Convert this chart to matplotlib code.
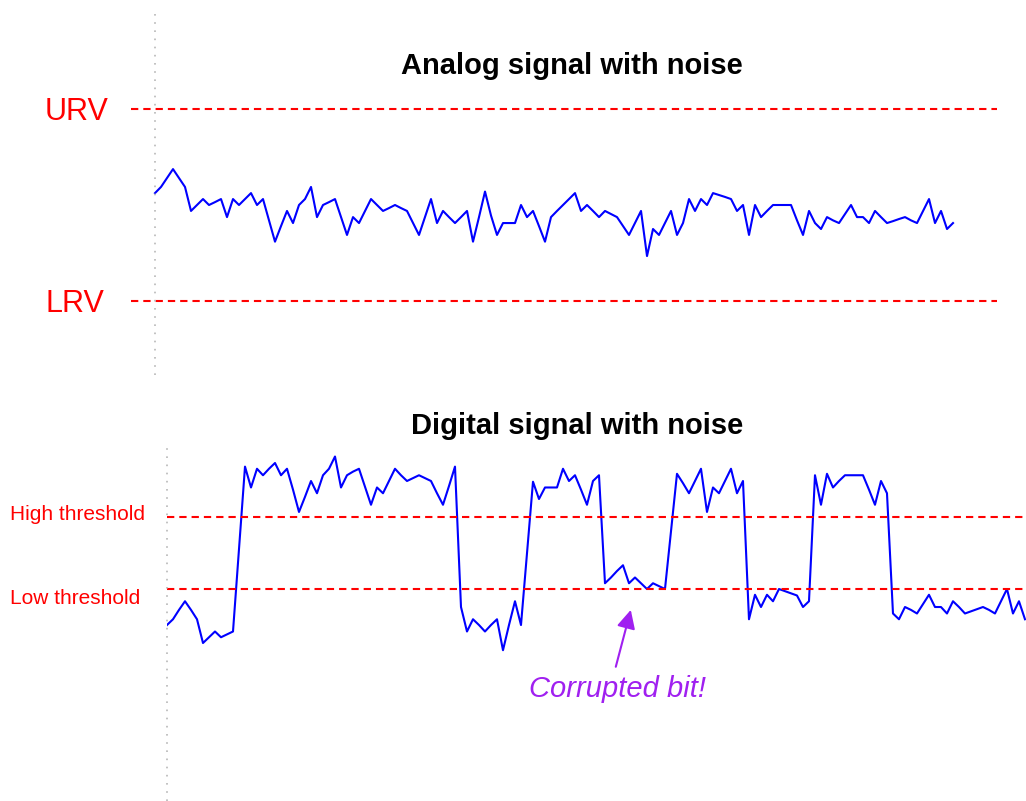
import matplotlib
matplotlib.use("Agg")
import matplotlib.pyplot as plt

plt.rcParams['font.family'] = ['Liberation Sans', 'DejaVu Sans']

# analog signal, percent of span (LRV = 0, URV = 100), one value per sample
analog = [56.2, 59.4, 64.0, 68.7, 64.0, 59.4, 46.9, 50.0, 53.1, 50.0,
          51.5, 53.1, 43.7, 53.1, 50.0, 53.1, 56.2, 50.0, 53.1, 42.0,
          30.9, 39.0, 46.9, 40.6, 50.0, 53.1, 59.4, 43.7, 50.0, 51.5,
          53.1, 43.7, 34.4, 43.7, 40.6, 46.9, 53.1, 50.0, 46.9, 48.4,
          50.0, 48.4, 46.9, 40.6, 34.4, 43.7, 53.1, 40.6, 46.9, 43.7,
          40.6, 43.7, 46.9, 30.9, 43.7, 57.0, 44.5, 34.4, 40.6, 40.6,
          40.6, 50.0, 43.7, 46.9, 39.0, 30.9, 43.7, 46.9, 50.0, 53.1,
          56.2, 46.9, 50.0, 46.9, 43.7, 46.9, 45.3, 43.7, 39.0, 34.4,
          40.6, 46.9, 23.4, 37.5, 34.4, 40.6, 46.9, 34.4, 40.6, 53.1,
          46.9, 53.1, 50.0, 56.2, 55.2, 54.2, 53.1, 46.9, 50.0, 34.4,
          50.0, 43.7, 46.9, 50.0, 50.0, 50.0, 50.0, 42.0, 34.4, 46.9,
          40.6, 37.5, 43.7, 42.0, 40.6, 45.3, 50.0, 43.7, 43.7, 40.6,
          46.9, 43.7, 40.6, 41.6, 42.7, 43.7, 42.0, 40.6, 46.9, 53.1,
          40.6, 46.9, 37.5, 40.6]
urv, lrv = 100.0, 0.0

# digital signal (low threshold = 1.0, high threshold = 2.0)
digital = [0.50, 0.58, 0.71, 0.83, 0.71, 0.58, 0.25, 0.33, 0.41, 0.33,
           0.37, 0.41, 1.56, 2.70, 2.41, 2.67, 2.58, 2.67, 2.75, 2.58,
           2.67, 2.38, 2.07, 2.28, 2.50, 2.33, 2.58, 2.67, 2.84, 2.41,
           2.58, 2.63, 2.67, 2.42, 2.17, 2.41, 2.33, 2.50, 2.67, 2.58,
           2.50, 2.54, 2.58, 2.54, 2.50, 2.33, 2.17, 2.43, 2.70, 0.75,
           0.41, 0.58, 0.50, 0.41, 0.50, 0.58, 0.15, 0.50, 0.83, 0.50,
           1.50, 2.49, 2.25, 2.41, 2.41, 2.41, 2.67, 2.50, 2.58, 2.38,
           2.17, 2.50, 2.58, 1.08, 1.16, 1.25, 1.33, 1.08, 1.16, 1.08,
           1.00, 1.08, 1.04, 1.00, 1.80, 2.60, 2.47, 2.33, 2.50, 2.67,
           2.07, 2.41, 2.33, 2.50, 2.67, 2.33, 2.50, 0.58, 0.92, 0.75,
           0.92, 0.83, 1.00, 0.97, 0.94, 0.91, 0.75, 0.83, 2.58, 2.17,
           2.60, 2.41, 2.50, 2.58, 2.58, 2.58, 2.58, 2.38, 2.17, 2.50,
           2.33, 0.66, 0.58, 0.75, 0.71, 0.66, 0.79, 0.92, 0.75, 0.75,
           0.66, 0.83, 0.75, 0.66, 0.69, 0.72, 0.75, 0.71, 0.66, 0.83,
           1.00, 0.66, 0.83, 0.58]
high_thr, low_thr = 2.0, 1.0

W, H = 1026, 801
blue = '#0000ff'
red = '#ff0000'
purple = '#a020f0'
dash = (0, (3.5, 2.4))
dots = (0, (1, 3.9))


def fx(px):
    return px / W


def fy(py):
    return 1 - py / H


fig = plt.figure(figsize=(W / 100, H / 100), dpi=100)

# ---- analog panel
ax1 = fig.add_axes([fx(131), fy(375), (997 - 131) / W, (375 - 12) / H])
ax1.plot(range(len(analog)), analog, color=blue, lw=1.5)
ax1.axhline(urv, color=red, lw=1.5, ls=dash)
ax1.axhline(lrv, color=red, lw=1.5, ls=dash)
ax1.axvline(0, color='#b8b8b8', lw=1.2, ls=dots)
ax1.set_xlim(-4, 140.33)
ax1.set_ylim(-38.54, 150.52)
ax1.axis('off')

fig.text(fx(572), fy(66), 'Analog signal with noise', ha='center', va='center',
         fontsize=21, fontweight='bold')
fig.text(fx(45), fy(112), 'URV', ha='left', va='center', fontsize=22, color=red)
fig.text(fx(45), fy(304), 'LRV', ha='left', va='center', fontsize=22, color=red)

# ---- digital panel
ax2 = fig.add_axes([fx(167), fy(801), (1026 - 167) / W, (801 - 445) / H])
ax2.plot(range(len(digital)), digital, color=blue, lw=1.5)
ax2.axhline(high_thr, color=red, lw=1.5, ls=dash)
ax2.axhline(low_thr, color=red, lw=1.5, ls=dash)
ax2.axvline(0, color='#b8b8b8', lw=1.2, ls=dots, clip_on=False)
ax2.set_xlim(0, 143.17)
ax2.set_ylim(-1.944, 3.0)
ax2.axis('off')

fig.text(fx(577), fy(426), 'Digital signal with noise', ha='center', va='center',
         fontsize=21, fontweight='bold')
fig.text(fx(10), fy(514), 'High threshold', ha='left', va='center', fontsize=15, color=red)
fig.text(fx(10), fy(598), 'Low threshold', ha='left', va='center', fontsize=15, color=red)

# corrupted bit callout
ax2.annotate('', xy=(77.3, 0.71), xytext=(74.8, -0.08),
             arrowprops=dict(arrowstyle='-|>', color=purple, lw=1.5,
                             mutation_scale=28, shrinkA=0, shrinkB=0))
ax2.text(75.1, -0.39, 'Corrupted bit!', ha='center', va='center', fontsize=21,
         style='italic', color=purple)

fig.savefig('out.png', dpi=100)
